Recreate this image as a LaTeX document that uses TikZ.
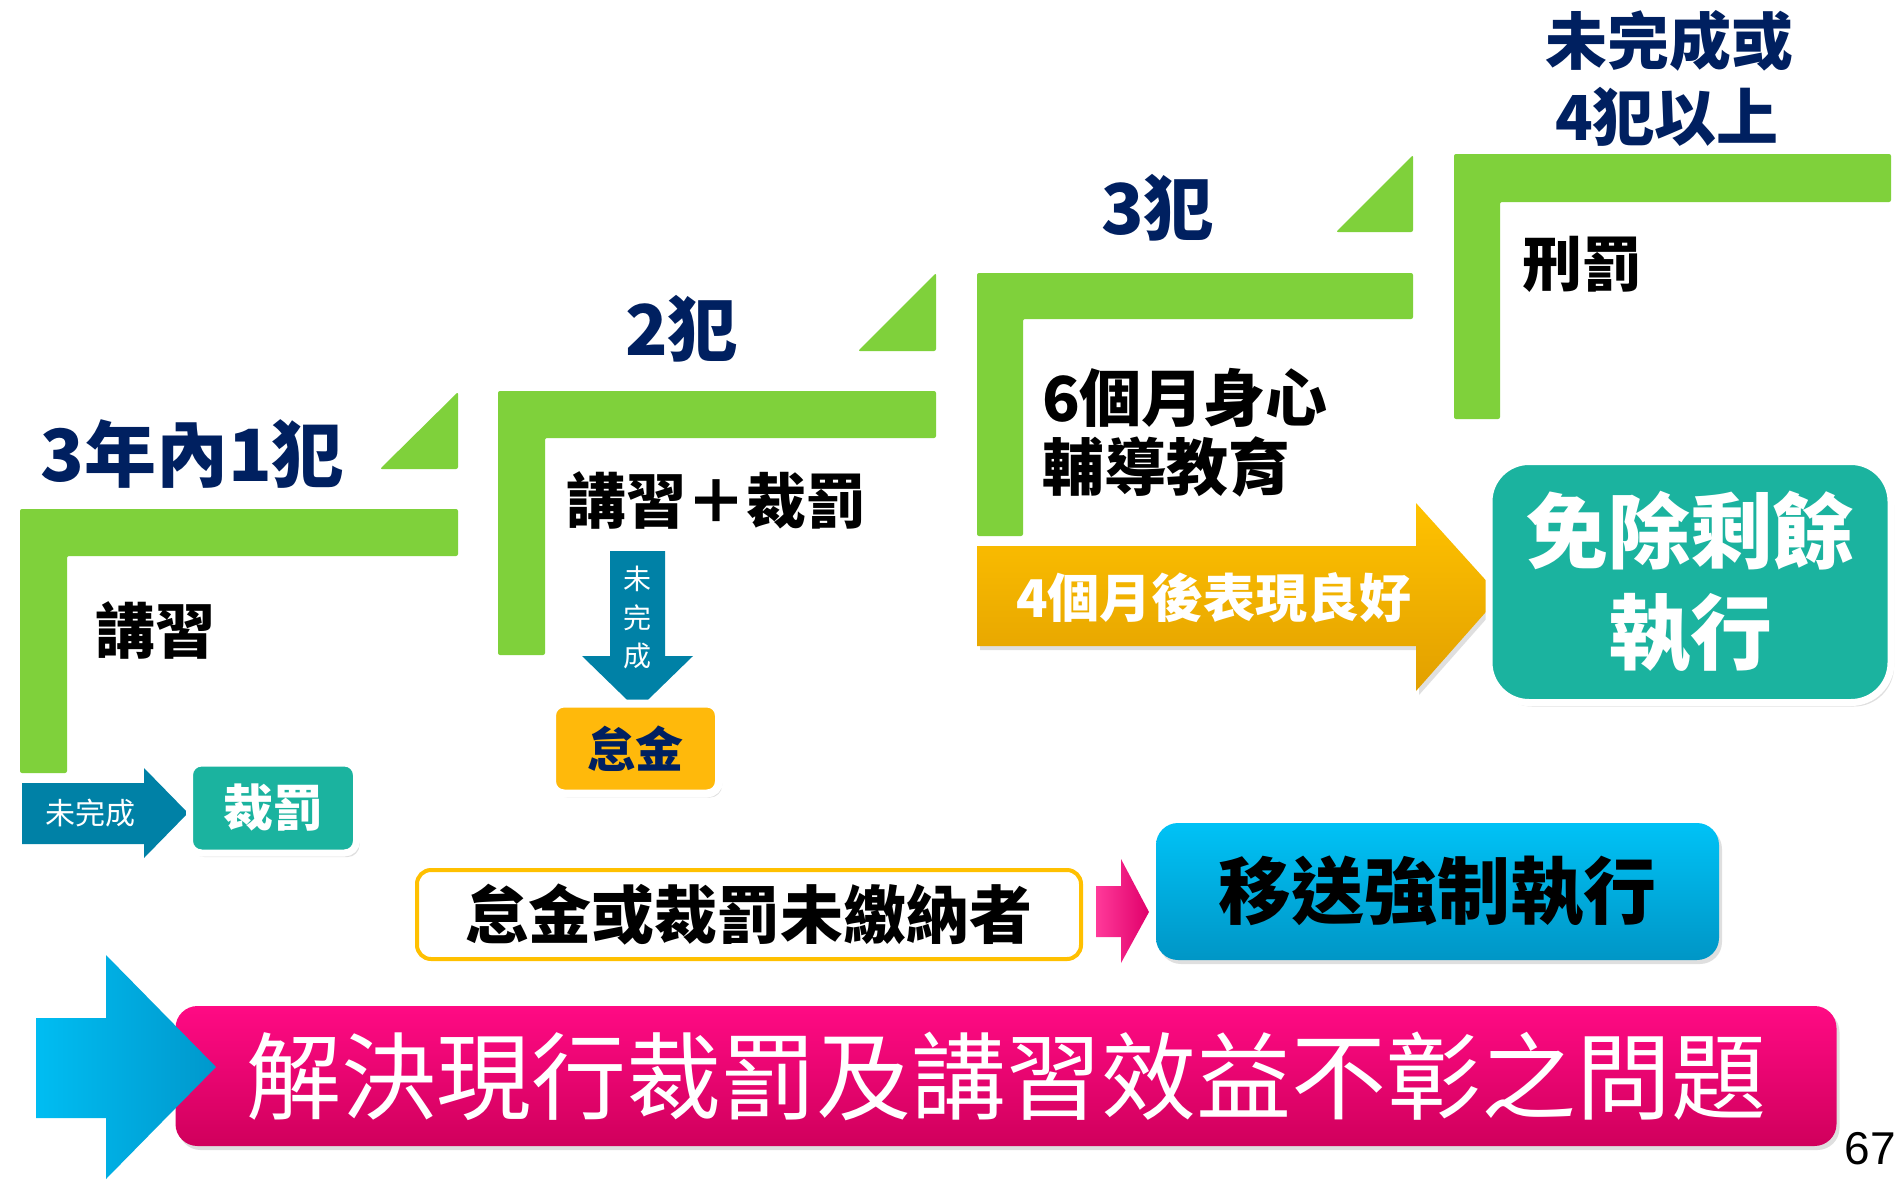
\documentclass[tikz,border=0pt]{standalone}
\usepackage{fontspec}
\setmainfont{Noto Sans CJK TC}
\newfontfamily\numfont{Liberation Sans}
\usetikzlibrary{shadows}
\definecolor{stepgreen}{HTML}{7FD13B}
\definecolor{navytxt}{HTML}{002060}
\definecolor{arrowteal}{HTML}{0081A6}
\definecolor{boxteal}{HTML}{1BB39F}
\definecolor{boxyellow}{HTML}{FFB90B}
\definecolor{orangeT}{HTML}{FFC200}
\definecolor{orangeB}{HTML}{E2A000}
\definecolor{orangeline}{HTML}{FFC000}
\definecolor{pinkL}{HTML}{FF3A9A}
\definecolor{pinkD}{HTML}{E0006A}
\definecolor{cyanT}{HTML}{00C2F6}
\definecolor{cyanB}{HTML}{0096C6}
\definecolor{magT}{HTML}{FF0A84}
\definecolor{magB}{HTML}{D0005C}
\definecolor{bigcyanL}{HTML}{00BDF2}
\definecolor{bigcyanR}{HTML}{0098CC}
\newcommand{\fsz}[1]{\fontsize{#1pt}{#1pt}\selectfont}
\tikzset{
  stepshape/.style={fill=stepgreen, rounded corners=2pt},
  headtxt/.style={text=navytxt, font=\bfseries\fsz{72}, inner sep=0pt},
  bodytxt/.style={text=black, font=\bfseries\fsz{60}, inner sep=0pt, anchor=west},
  softshadow/.style={drop shadow={opacity=0.25, shadow xshift=3pt, shadow yshift=-4pt}},
  whiteframe/.style={draw=white, line width=7pt, softshadow, inner sep=0pt},
}
\begin{document}
\begin{tikzpicture}[x=1pt,y=-1pt]
\useasboundingbox (0,0) rectangle (1895,1181);
\fill[white] (0,0) rectangle (1895,1181);

% ---------- step 1
\fill[stepshape] (20,509) -- (458,509) -- (458,556) -- (67,556) -- (67,773) -- (20,773) -- cycle;
\fill[stepshape] (380,469) -- (458,392) -- (458,469) -- cycle;
\node[headtxt, anchor=west] (h1) at (40,454) {3年內1犯};
\node[bodytxt] (b1) at (95,630) {講習};
\path[fill=arrowteal] (22,783) -- (144,783) -- (144,768) -- (188,813) -- (144,858) -- (144,844) -- (22,844) -- cycle;
\node[text=white, font=\fsz{30}, inner sep=0pt] (a1) at (90,813) {未完成};
\node[whiteframe, fill=boxteal, rounded corners=12pt, minimum width=167pt, minimum height=90pt,
      text=white, font=\bfseries\fsz{50}] (fine1) at (273,808) {裁罰};

% ---------- step 2
\fill[stepshape] (498,391) -- (936,391) -- (936,438) -- (545,438) -- (545,655) -- (498,655) -- cycle;
\fill[stepshape] (858,351) -- (936,273) -- (936,351) -- cycle;
\node[headtxt, anchor=west, font=\bfseries\fsz{70}] (h2) at (625,329) {2犯};
\node[bodytxt] (b2) at (566,500) {講習＋裁罰};
\path[fill=arrowteal] (610,551) -- (665,551) -- (665,656) -- (693,656) -- (637.5,710) -- (582,656) -- (610,656) -- cycle;
\node[text=white, font=\fsz{28}, inner sep=0pt] (a2a) at (637.5,579) {未};
\node[text=white, font=\fsz{28}, inner sep=0pt] (a2b) at (637.5,618) {完};
\node[text=white, font=\fsz{28}, inner sep=0pt] (a2c) at (637.5,656) {成};
\node[whiteframe, line width=8pt, fill=boxyellow, rounded corners=12pt, minimum width=167pt, minimum height=90pt,
      text=navytxt, font=\bfseries\fsz{48}] (fine2) at (635.5,748.5) {怠金};

% ---------- step 3
\fill[stepshape] (977,273) -- (1413,273) -- (1413,319) -- (1023,319) -- (1023,536) -- (977,536) -- cycle;
\fill[stepshape] (1336,232) -- (1413,155) -- (1413,232) -- cycle;
\node[headtxt, anchor=west, font=\bfseries\fsz{70}] (h3) at (1101,208) {3犯};
\node[bodytxt, font=\bfseries\fsz{62}] (b3a) at (1042,398) {6個月身心};
\node[bodytxt, font=\bfseries\fsz{62}] (b3b) at (1042,467) {輔導教育};
\path[top color=orangeT, bottom color=orangeB, softshadow]
  (977,546) -- (1416,546) -- (1416,503) -- (1500,596) -- (1416,691) -- (1416,646) -- (977,646) -- cycle;
\node[text=white, font=\bfseries\fsz{52}, inner sep=0pt, anchor=west] (a3) at (1016,598) {4個月後表現良好};
\node[whiteframe, fill=boxteal, rounded corners=40pt, minimum width=402pt, minimum height=241pt,
      align=center, text=white, font=\bfseries\fontsize{82pt}{101pt}\selectfont] (exempt) at (1690,582)
      {免除剩餘\\執行};

% ---------- step 4
\fill[stepshape] (1454,154) -- (1891,154) -- (1891,202) -- (1500,202) -- (1500,419) -- (1454,419) -- cycle;
\node[headtxt, font=\bfseries\fsz{62}] (h4a) at (1669,41) {未完成或};
\node[headtxt, font=\bfseries\fsz{62}] (h4b) at (1667,117) {4犯以上};
\node[bodytxt] (b4) at (1522,264) {刑罰};

% ---------- unpaid
\node[draw=orangeline, line width=4pt, fill=white, rounded corners=14pt, minimum width=664pt, minimum height=89pt,
      inner sep=0pt, text=black, font=\bfseries\fsz{63}] (unpaid) at (749,914.5) {怠金或裁罰未繳納者};
\path[left color=pinkL, right color=pinkD]
  (1096,886) -- (1121,886) -- (1121,859) -- (1149,912) -- (1121,963) -- (1121,937) -- (1096,937) -- cycle;
\node[top color=cyanT, bottom color=cyanB, rounded corners=22pt, softshadow, minimum width=563pt, minimum height=137pt,
      inner sep=0pt, text=black, font=\bfseries\fsz{73}] (enforce) at (1437.5,891.5) {移送強制執行};

% ---------- bottom banner
\node[top color=magT, bottom color=magB, rounded corners=22pt, softshadow, minimum width=1661pt, minimum height=140pt,
      inner sep=0pt, text=white, font=\fsz{95}] (banner) at (1006,1076) {解決現行裁罰及講習效益不彰之問題};
\path[left color=bigcyanL, right color=bigcyanR]
  (36,1018) -- (106,1018) -- (106,955) -- (216,1067) -- (106,1179) -- (106,1118) -- (36,1118) -- cycle;

\node[inner sep=0pt, font=\numfont\fsz{46}] (pg) at (1870,1149) {67};
\end{tikzpicture}
\end{document}
